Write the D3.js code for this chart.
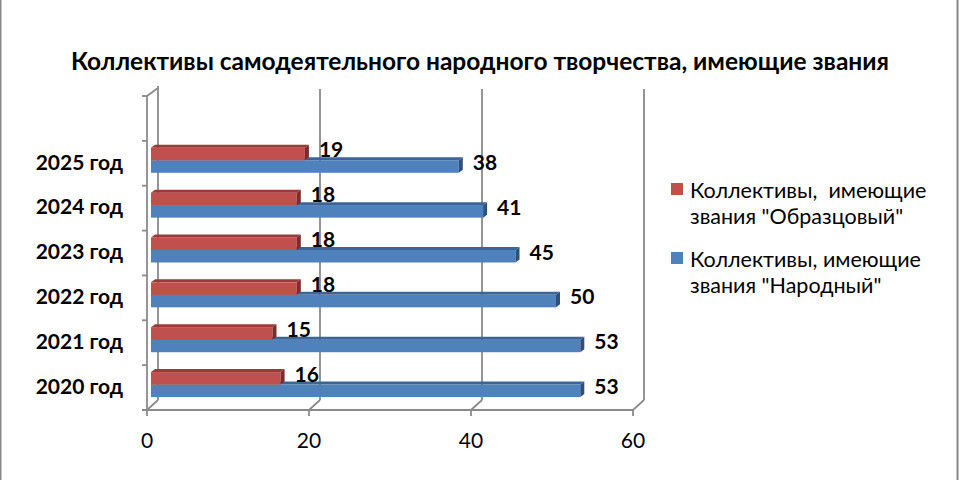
<!DOCTYPE html>
<html><head><meta charset="utf-8">
<script src="https://cdn.jsdelivr.net/npm/d3@7"></script>
<style>body{margin:0;background:#fff}svg{display:block}</style>
</head><body>
<svg id="c" width="960" height="480"></svg>
<script>
const categories = ["2020 год","2021 год","2022 год","2023 год","2024 год","2025 год"];
const obrazcovy = [16,15,18,18,18,19];
const narodny = [53,53,50,45,41,38];
const xTicks = [0,20,40,60];
const seriesNames = ['Коллективы,  имеющие\nзвания "Образцовый"','Коллективы, имеющие\nзвания "Народный"'];
const title = "Коллективы самодеятельного народного творчества, имеющие звания";

const colors = {
  red:{front:"#C0504D", top:"#9A3B38", side:"#7A2D2B"},
  blue:{front:"#4F81BD", top:"#3B6597", side:"#2E5079"}
};
const font = "Lato, 'Open Sans', sans-serif";
const svg = d3.select("#c");
svg.append("rect").attr("x",0.5).attr("y",-5).attr("width",957).attr("height",490)
  .attr("fill","#fff").attr("stroke","#888").attr("stroke-width",2);

const x = d3.scaleLinear().domain([0,60]).range([147,633]);
const slots = categories.concat([""]);
const y = d3.scaleBand().domain(slots).range([410,96]).paddingInner(0.443).paddingOuter(0.2215);
const DX = 11, DY = 10;       // wall depth
const BX = 4, BY = 3;         // bar position in depth
const dx = 4, dy = 3;         // bar thickness in depth
const grid = "#8a8a8a";

const g = svg.append("g");
xTicks.forEach(t=>{
  g.append("line").attr("x1",x(t)+DX).attr("x2",x(t)+DX).attr("y1",410-DY).attr("y2",96-DY+ (t===0?0:3))
    .attr("stroke",grid).attr("stroke-width",1.8);
  g.append("line").attr("x1",x(t)).attr("y1",410).attr("x2",x(t)+DX).attr("y2",410-DY)
    .attr("stroke",grid).attr("stroke-width",1.8);
  g.append("line").attr("x1",x(t)).attr("y1",410).attr("x2",x(t)).attr("y2",416)
    .attr("stroke",grid).attr("stroke-width",1.8);
  g.append("text").attr("x",x(t)).attr("y",441).attr("dy","0.35em").attr("text-anchor","middle")
    .attr("font-family",font).attr("font-size",21).attr("fill","#000").text(t);
});
g.append("line").attr("x1",x(0)).attr("x2",x(0)).attr("y1",410).attr("y2",96).attr("stroke",grid).attr("stroke-width",1.8);
g.append("line").attr("x1",x(0)).attr("y1",96).attr("x2",x(0)+DX).attr("y2",96-DY+2).attr("stroke",grid).attr("stroke-width",1.8);
g.append("line").attr("x1",x(0)-5).attr("x2",x(60)).attr("y1",410).attr("y2",410).attr("stroke",grid).attr("stroke-width",1.8);
const bounds = slots.map(s=>y(s)-y.step()*y.paddingOuter()).concat([410]);
bounds.forEach(b=>{
  g.append("line").attr("x1",x(0)-5).attr("x2",x(0)).attr("y1",b).attr("y2",b).attr("stroke",grid).attr("stroke-width",1.8);
});
categories.forEach(c=>{
  g.append("text").attr("x",123).attr("y",y(c)+y.bandwidth()/2 - 1).attr("dy","0.35em")
    .attr("text-anchor","end").attr("font-family",font).attr("font-weight","bold").attr("font-size",21)
    .attr("fill","#000").text(c);
});

const inner = d3.scaleBand().domain(["red","blue"]).range([0,y.bandwidth()]);
function bar(v, cat, key){
  const c = colors[key];
  const x0 = x(0)+BX, x1 = x(v)+BX;
  const y0 = y(cat)+inner(key)-BY, y1 = y0+inner.bandwidth();
  const gb = g.append("g");
  gb.append("rect").attr("x",x0).attr("y",y0).attr("width",x1-x0).attr("height",y1-y0).attr("fill",c.front);
  gb.append("path").attr("d",`M${x0},${y0}L${x1},${y0}L${x1+dx},${y0-dy}L${x0+dx},${y0-dy}Z`).attr("fill",c.top);
  gb.append("path").attr("d",`M${x1},${y0}L${x1+dx},${y0-dy}L${x1+dx},${y1-dy}L${x1},${y1}Z`).attr("fill",c.side);
  g.append("text").attr("x",x1+14).attr("y",(y0+y1)/2-4).attr("dy","0.35em")
    .attr("font-family",font).attr("font-weight","bold").attr("font-size",21).attr("fill","#000").text(v);
}
for(let i=categories.length-1;i>=0;i--){
  bar(narodny[i], categories[i], "blue");
  bar(obrazcovy[i], categories[i], "red");
}

svg.append("text").attr("x",480).attr("y",70).attr("text-anchor","middle")
  .attr("font-family",font).attr("font-weight","bold").attr("font-size",24.5).attr("fill","#000").text(title);

const leg = [{key:"red",base:198},{key:"blue",base:267}];
leg.forEach((l,i)=>{
  svg.append("rect").attr("x",671).attr("y",l.base-15).attr("width",12).attr("height",12).attr("fill",colors[l.key].front);
  seriesNames[i].split("\n").forEach((line,j)=>{
    svg.append("text").attr("x",690).attr("y",l.base+j*26).attr("font-family",font).attr("font-size",21.5)
      .attr("fill","#000").attr("xml:space","preserve").style("white-space","pre").text(line);
  });
});
</script>
</body></html>
